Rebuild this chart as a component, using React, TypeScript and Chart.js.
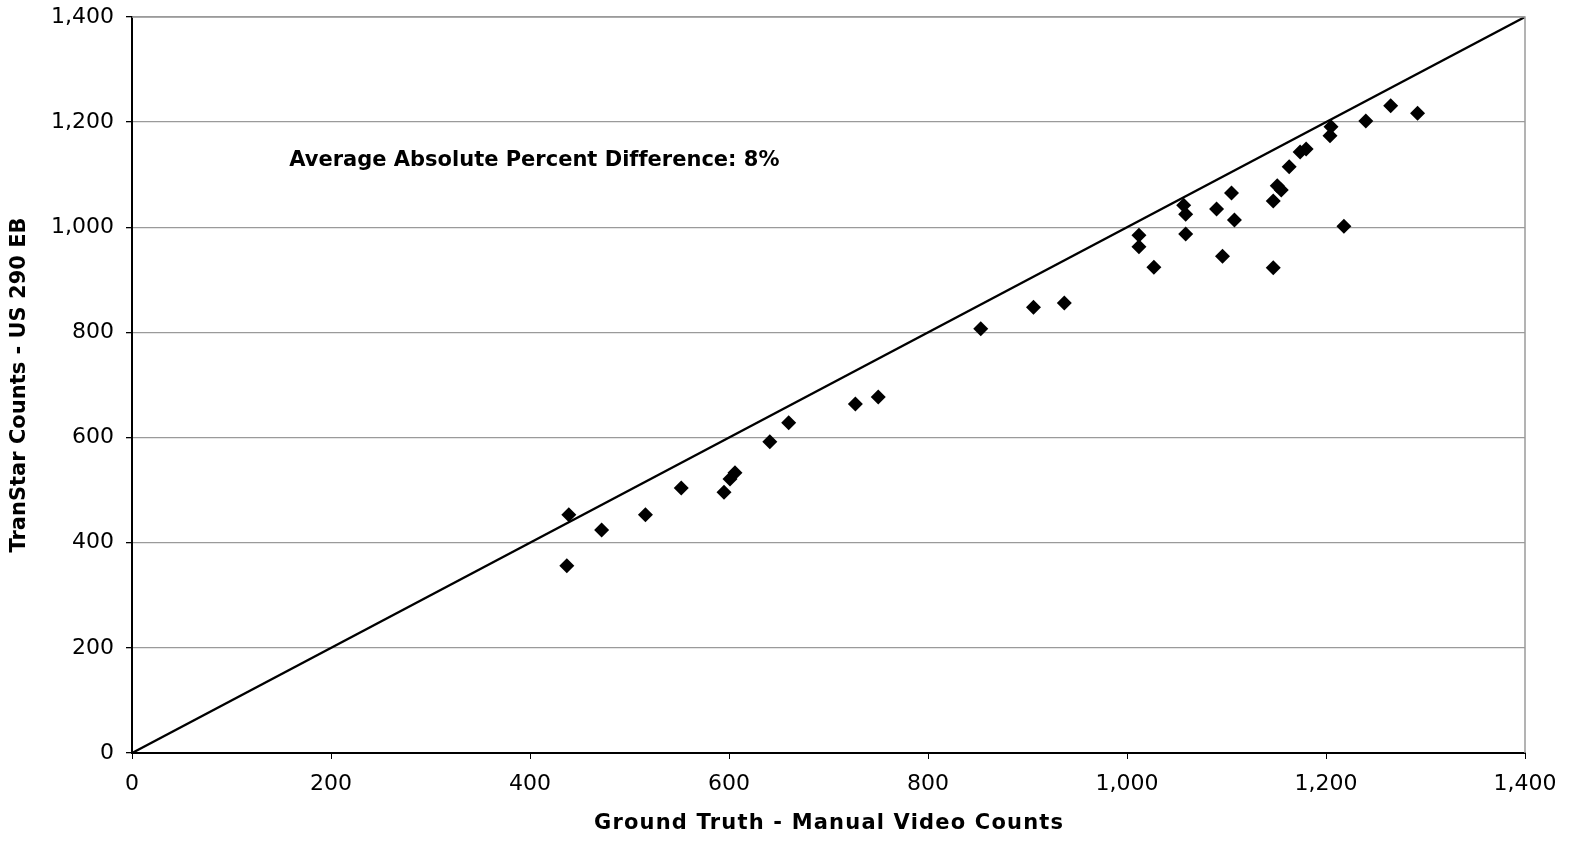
import React, { useEffect, useRef } from "react";
import { Chart, registerables } from "chart.js";

Chart.register(...registerables);

const groundTruth: number[] = [
  439, 437, 472, 516, 552, 595, 601, 606, 641, 660, 727, 750, 853, 906, 937,
  1012, 1012, 1027, 1057, 1059, 1059, 1090, 1105, 1108, 1096, 1147, 1147,
  1151, 1155, 1163, 1174, 1180, 1204, 1205, 1218, 1240, 1265, 1292,
];
const transStar: number[] = [
  453, 356, 424, 453, 504, 496, 521, 533, 592, 628, 664, 677, 807, 848, 856,
  985, 963, 924, 1042, 1025, 987, 1035, 1065, 1014, 945, 1050, 923,
  1079, 1071, 1115, 1143, 1149, 1174, 1191, 1002, 1202, 1231, 1217,
];
const equalityLine = [
  { x: 0, y: 0 },
  { x: 1400, y: 1400 },
];
const xTitle = "Ground Truth - Manual Video Counts";
const yTitle = "TranStar Counts - US 290 EB";
const annotationText = "Average Absolute Percent Difference: 8%";
const annotationPos = { x: 158, y: 1126 };

const FONT = "'DejaVu Sans', Verdana, sans-serif";

function drawSpaced(ctx: CanvasRenderingContext2D, text: string, x: number, y: number, targetWidth: number, align: "left" | "center") {
  (ctx as any).letterSpacing = "0px";
  const w = ctx.measureText(text).width;
  const sp = Math.max(0, (targetWidth - w) / (text.length - 1));
  (ctx as any).letterSpacing = `${sp}px`;
  const total = w + sp * (text.length - 1);
  ctx.textAlign = "left";
  const startX = align === "center" ? x - total / 2 : x;
  ctx.fillText(text, startX, y);
  (ctx as any).letterSpacing = "0px";
}

export default function App() {
  const ref = useRef<HTMLCanvasElement | null>(null);

  useEffect(() => {
    document.body.style.margin = "0";
    const canvas = ref.current;
    if (!canvas) return;

    const extras = {
      id: "extras",
      afterDraw(chart: any) {
        const { ctx, chartArea, scales } = chart;
        ctx.save();
        ctx.strokeStyle = "#9a9a9a";
        ctx.lineWidth = 1.5;
        ctx.beginPath();
        ctx.moveTo(chartArea.left, chartArea.top);
        ctx.lineTo(chartArea.right, chartArea.top);
        ctx.lineTo(chartArea.right, chartArea.bottom);
        ctx.stroke();

        ctx.fillStyle = "#000";
        ctx.font = `bold 21px ${FONT}`;
        ctx.textBaseline = "middle";
        drawSpaced(
          ctx,
          annotationText,
          scales.x.getPixelForValue(annotationPos.x),
          scales.y.getPixelForValue(annotationPos.y),
          489,
          "left"
        );
        const cx = (chartArea.left + chartArea.right) / 2;
        drawSpaced(ctx, xTitle, cx, chartArea.bottom + 71, 469, "center");
        ctx.save();
        ctx.translate(20, (chartArea.top + chartArea.bottom) / 2);
        ctx.rotate(-Math.PI / 2);
        drawSpaced(ctx, yTitle, 0, 0, 324, "center");
        ctx.restore();
        ctx.restore();
      },
    };

    const points = groundTruth.map((x, i) => ({ x, y: transStar[i] }));

    const chart = new Chart(canvas, {
      type: "scatter",
      data: {
        datasets: [
          {
            type: "line",
            data: equalityLine,
            borderColor: "#000",
            borderWidth: 2.4,
            pointRadius: 0,
            fill: false,
            order: 2,
          } as any,
          {
            data: points,
            pointStyle: "rectRot",
            pointRadius: 7.5,
            backgroundColor: "#000",
            borderColor: "#000",
            borderWidth: 0,
            order: 1,
          },
        ],
      },
      options: {
        animation: false,
        responsive: false,
        layout: { padding: { left: 0, right: 68, top: 17, bottom: 0 } },
        plugins: {
          legend: { display: false },
          tooltip: { enabled: false },
        },
        scales: {
          x: {
            type: "linear",
            min: 0,
            max: 1400,
            ticks: {
              stepSize: 200,
              color: "#000",
              font: { family: FONT, size: 22 },
              padding: 12,
              callback: (v: any) => Number(v).toLocaleString("en-US"),
            },
            grid: {
              drawOnChartArea: false,
              drawTicks: true,
              tickLength: 6,
              tickColor: "#000",
            },
            border: { color: "#000", width: 2 },
            afterFit: (s: any) => {
              s.height = 97;
              s.paddingLeft = 0;
              s.paddingRight = 0;
            },
          },
          y: {
            type: "linear",
            min: 0,
            max: 1400,
            ticks: {
              stepSize: 200,
              color: "#000",
              font: { family: FONT, size: 22 },
              padding: 12,
              callback: (v: any) => Number(v).toLocaleString("en-US"),
            },
            grid: {
              color: "#9a9a9a",
              lineWidth: 1.3,
              drawTicks: true,
              tickLength: 6,
              tickColor: "#000",
            },
            border: { color: "#000", width: 2 },
            afterFit: (s: any) => {
              s.width = 132;
              s.paddingTop = 0;
              s.paddingBottom = 0;
            },
          },
        },
      },
      plugins: [extras],
    });

    return () => chart.destroy();
  }, []);

  return (
    <div style={{ width: 1593, height: 850 }}>
      <canvas ref={ref} width={1593} height={850} style={{ display: "block" }} />
    </div>
  );
}
